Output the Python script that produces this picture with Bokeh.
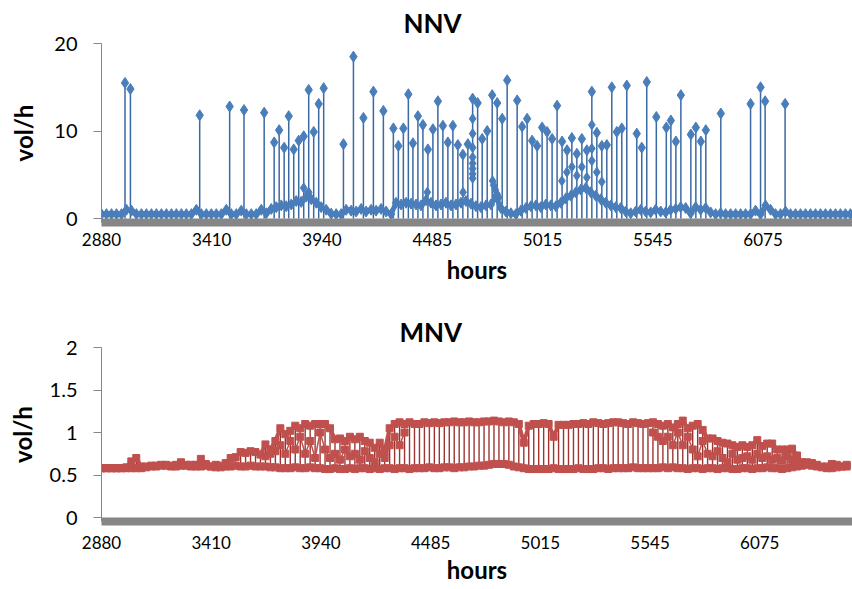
import numpy as np
from bokeh.plotting import figure
from bokeh.layouts import column
from bokeh.models import Range1d, FixedTicker
from bokeh.embed import file_html
from bokeh.resources import INLINE

# ---------------- data ----------------
# x positions are sample (hour) indices counted from the first sample;
# the category axis prints a label every 530 samples
tick_labels = ["2880", "3410", "3940", "4485", "5015", "5545", "6075"]
label_step = 530
samples_per_day = 24

# NNV: daily baseline level (one value per day)
nnv_base = [
    0.5, 0.5, 0.5, 0.5, 0.5, 1.0, 0.9, 0.5, 0.5, 0.5,
    0.5, 0.5, 0.5, 0.5, 0.5, 0.5, 0.5, 0.5, 0.5, 1.0,
    0.5, 0.5, 0.5, 0.5, 0.5, 1.0, 0.5, 0.5, 0.9, 0.5,
    0.5, 0.5, 1.0, 0.6, 1.1, 1.3, 1.5, 1.4, 1.6, 2.0,
    1.9, 2.5, 2.2, 1.8, 1.3, 1.0, 0.55, 0.5, 0.5, 1.0,
    0.9, 0.8, 1.1, 0.8, 1.0, 0.9, 1.1, 0.8, 0.5, 1.8,
    1.6, 1.8, 1.7, 1.6, 1.5, 2.1, 1.8, 1.5, 1.6, 1.8,
    1.5, 1.6, 1.8, 2.0, 1.7, 1.4, 1.3, 1.5, 1.6, 2.5,
    1.2, 0.8, 0.6, 0.5, 0.9, 1.2, 1.4, 1.5, 1.3, 1.6,
    1.5, 1.4, 1.8, 2.3, 2.6, 3.0, 3.3, 3.5, 3.0, 2.6,
    2.2, 1.8, 1.5, 1.3, 1.2, 0.8, 0.6, 0.8, 1.0, 0.8,
    0.7, 1.0, 0.8, 0.7, 1.0, 1.1, 1.3, 1.2, 0.6, 1.3,
    1.0, 1.2, 0.7, 0.5, 0.6, 0.5, 0.5, 0.5, 0.5, 0.5,
    0.5, 0.9, 0.5, 1.5, 1.0, 0.5, 0.5, 0.8, 0.5, 0.5,
    0.5, 0.5, 0.5, 0.5, 0.5, 0.5, 0.5, 0.5, 0.5, 0.5, 0.5,
]

# NNV: daily peaks (sample index, value)
spike_x = [
    113, 139, 472, 616, 685, 782, 830, 854, 878, 900,
    924, 948, 972, 996, 1020, 1044, 1068, 1163, 1211, 1259,
    1307, 1355, 1403, 1427, 1451, 1475, 1497, 1521, 1545, 1569,
    1593, 1617, 1641, 1665, 1689, 1713, 1737, 1761, 1784, 1808,
    1830, 1854, 1878, 1902, 1926, 1950, 1998, 2022, 2046, 2070,
    2094, 2118, 2142, 2166, 2190, 2214, 2238, 2261, 2285, 2309,
    2333, 2357, 2381, 2405, 2429, 2453, 2477, 2501, 2525, 2573,
    2597, 2621, 2667, 2715, 2737, 2761, 2785, 2833, 2857, 2881,
    2905, 2977, 3120, 3168, 3190, 3286,
]
spike_y = [
    15.5, 14.8, 11.8, 12.8, 12.4, 12.1, 8.7, 10.1, 8.1, 11.7,
    7.9, 8.9, 9.4, 14.7, 9.9, 13.1, 14.9, 8.5, 18.5, 11.5,
    14.5, 12.3, 10.3, 8.3, 10.3, 14.2, 8.6, 11.7, 10.7, 7.9,
    10.2, 13.4, 10.6, 8.7, 10.6, 8.4, 7.3, 8.5, 13.7, 13.2,
    9.1, 10.0, 14.1, 13.2, 11.4, 15.8, 13.5, 10.5, 11.4, 8.9,
    8.3, 10.4, 9.9, 9.1, 12.9, 8.8, 7.8, 9.2, 7.4, 9.1,
    7.8, 14.5, 9.8, 8.3, 8.4, 15.0, 9.9, 10.3, 15.2, 9.7,
    8.1, 15.6, 11.6, 10.4, 11.2, 8.8, 14.1, 9.6, 10.4, 8.8,
    10.1, 12.0, 13.1, 15.0, 13.4, 13.1,
]

# NNV: intermediate hourly values (sample index, value)
extra_x = [1784, 1784, 1784, 1784, 1784, 1784, 1784, 1784,
           1880, 1885, 1893, 1901, 1909,
           972, 996, 1566, 1738,
           2213, 2237, 2261, 2285, 2309, 2333, 2357, 2357, 2357, 2381, 2405]
extra_y = [11.4, 9.7, 8.1, 7.0, 6.3, 5.7, 5.1, 4.6,
           4.3, 3.8, 3.3, 2.8, 2.4,
           3.5, 3.0, 3.0, 3.0,
           4.3, 5.3, 5.9, 4.9, 5.9, 4.7, 6.6, 10.7, 8.0, 5.3, 4.2]

# MNV: daily low level
mnv_low = [
    0.58, 0.58, 0.58, 0.58, 0.58, 0.58, 0.58, 0.58, 0.58, 0.59,
    0.60, 0.60, 0.61, 0.61, 0.60, 0.60, 0.61, 0.61, 0.60, 0.60,
    0.60, 0.61, 0.60, 0.59, 0.59, 0.60, 0.60, 0.61, 0.60, 0.60,
    0.61, 0.60, 0.60, 0.60, 0.59, 0.59, 0.58, 0.58, 0.58, 0.59,
    0.58, 0.58, 0.59, 0.58, 0.58, 0.57, 0.57, 0.58, 0.57, 0.57,
    0.58, 0.57, 0.58, 0.58, 0.57, 0.58, 0.57, 0.58, 0.58, 0.57,
    0.58, 0.58, 0.57, 0.58, 0.58, 0.58, 0.59, 0.58, 0.58, 0.59,
    0.59, 0.58, 0.59, 0.59, 0.60, 0.60, 0.61, 0.61, 0.62, 0.63,
    0.63, 0.63, 0.62, 0.60, 0.59, 0.58, 0.57, 0.57, 0.57, 0.57,
    0.57, 0.58, 0.57, 0.57, 0.57, 0.57, 0.58, 0.57, 0.57, 0.57,
    0.58, 0.58, 0.57, 0.58, 0.58, 0.58, 0.58, 0.59, 0.58, 0.58,
    0.58, 0.58, 0.58, 0.59, 0.58, 0.59, 0.58, 0.58, 0.57, 0.58,
    0.58, 0.57, 0.58, 0.58, 0.57, 0.58, 0.58, 0.57, 0.57, 0.58,
    0.58, 0.57, 0.58, 0.58, 0.59, 0.58, 0.58, 0.57, 0.58, 0.59,
    0.60, 0.61, 0.62, 0.61, 0.60, 0.59, 0.58, 0.58, 0.59, 0.60, 0.60,
]

# MNV: daily high level
mnv_high = [
    0.58, 0.58, 0.58, 0.58, 0.58, 0.59, 0.66, 0.70, 0.60, 0.60,
    0.61, 0.61, 0.62, 0.62, 0.61, 0.62, 0.65, 0.62, 0.62, 0.62,
    0.69, 0.63, 0.60, 0.62, 0.61, 0.64, 0.70, 0.71, 0.77, 0.76,
    0.78, 0.77, 0.74, 0.86, 0.80, 0.90, 1.05, 0.98, 1.02, 1.08,
    1.05, 1.10, 1.08, 1.10, 1.10, 1.10, 1.05, 0.92, 0.93, 0.90,
    0.95, 0.92, 0.95, 0.90, 0.88, 0.82, 0.88, 0.78, 1.05, 1.10,
    1.12, 1.10, 1.12, 1.10, 1.10, 1.12, 1.11, 1.12, 1.11, 1.12,
    1.12, 1.13, 1.12, 1.12, 1.13, 1.12, 1.12, 1.13, 1.13, 1.14,
    1.13, 1.12, 1.13, 1.12, 1.10, 0.88, 1.08, 1.10, 1.10, 1.11,
    1.10, 0.95, 1.09, 1.09, 1.09, 1.10, 1.10, 1.11, 1.10, 1.12,
    1.11, 1.10, 1.11, 1.12, 1.12, 1.11, 1.10, 1.12, 1.11, 1.10,
    1.11, 1.12, 1.10, 1.08, 1.10, 1.06, 1.10, 1.14, 1.05, 1.08,
    1.10, 1.03, 0.93, 0.93, 0.90, 0.88, 0.87, 0.85, 0.83, 0.85,
    0.83, 0.85, 0.91, 0.84, 0.87, 0.87, 0.80, 0.80, 0.80, 0.81,
    0.73, 0.65, 0.65, 0.64, 0.62, 0.60, 0.60, 0.63, 0.62, 0.60, 0.62,
]

# MNV: scattered intermediate values on unsettled days (None = none)
mnv_mid = ([None] * 33 + [
    0.72, 0.75, 0.78, 0.85, 0.75, 0.90, 0.80, 0.95, 0.75, 0.90,
    0.70, 1.00, 0.80, 0.70, 0.75, 0.68, 0.80, 0.72, 0.75, 0.68,
    0.78, 0.70, 0.65, 0.75, 0.70, 0.85, 0.95, 0.85, 1.00,
] + [None] * 49 + [
    1.00, 0.95, 0.90, 0.95, 0.85, 1.00, 0.85, 0.95, 0.80, 0.72,
    0.90, 0.75, 0.72, 0.78, 0.70, 0.65, 0.75, 0.68, 0.70, 0.72,
    0.68, 0.75, 0.70, 0.72, 0.68, 0.70, 0.67, 0.72, 0.68, 0.65,
] + [None] * 10)

nnv_yticks = [0, 10, 20]
mnv_yticks = [0, 0.5, 1, 1.5, 2]
mnv_ytick_labels = ["0", "0.5", "1", "1.5", "2"]

# ---------------- styling ----------------
FONT = "Lato"
BLUE = "#4A7EBB"
BLUE_LINE = "#3A69A3"
RED = "#C0504D"
RED_LINE = "#9E3431"
AXIS_GREY = "#868686"
W = 852

day_x = [samples_per_day * k for k in range(len(nnv_base))]
tick_pos = [label_step * i for i in range(len(tick_labels))]
mid_arr = np.array([np.nan if v is None else v for v in mnv_mid], dtype=float)


def style(p, title, title_offset, title_standoff, yticks, ylabels,
          xstandoff, xlabel_standoff, ylabel_standoff):
    p.outline_line_color = None
    p.xgrid.grid_line_color = None
    p.ygrid.grid_line_color = None

    p.title.text = title
    p.title.align = "left"
    p.title.offset = title_offset
    p.title.standoff = title_standoff
    p.title.text_font = FONT
    p.title.text_font_size = "26px"
    p.title.text_font_style = "bold"
    p.title.text_color = "black"

    xa = p.xaxis[0]
    xa.ticker = FixedTicker(ticks=tick_pos)
    xa.major_label_overrides = {pos: lab for pos, lab in zip(tick_pos, tick_labels)}
    xa.axis_line_color = AXIS_GREY
    xa.axis_line_width = 8
    xa.major_tick_out = 0
    xa.major_tick_in = 0
    xa.minor_tick_out = 0
    xa.minor_tick_in = 0
    xa.major_label_text_font = FONT
    xa.major_label_text_font_size = "17px"
    xa.major_label_text_color = "black"
    xa.major_label_standoff = xstandoff
    xa.axis_label = "hours"
    xa.axis_label_text_font = FONT
    xa.axis_label_text_font_size = "24px"
    xa.axis_label_text_font_style = "bold"
    xa.axis_label_text_color = "black"
    xa.axis_label_standoff = xlabel_standoff

    ya = p.yaxis[0]
    ya.ticker = FixedTicker(ticks=yticks)
    ya.major_label_overrides = {t: l for t, l in zip(yticks, ylabels)}
    ya.axis_line_color = AXIS_GREY
    ya.axis_line_width = 1
    ya.major_tick_line_color = AXIS_GREY
    ya.major_tick_out = 8
    ya.major_tick_in = 0
    ya.minor_tick_out = 0
    ya.minor_tick_in = 0
    ya.major_label_text_font = FONT
    ya.major_label_text_font_size = "20px"
    ya.major_label_text_color = "black"
    ya.major_label_standoff = 16
    ya.axis_label = "vol/h"
    ya.axis_label_text_font = FONT
    ya.axis_label_text_font_size = "24px"
    ya.axis_label_text_font_style = "bold"
    ya.axis_label_text_color = "black"
    ya.axis_label_standoff = ylabel_standoff


# ---------------- NNV ----------------
p1 = figure(width=W, height=298, output_backend="svg", toolbar_location=None,
            x_range=Range1d(0, 3610), y_range=Range1d(-0.457, 20),
            min_border_left=98, min_border_right=0, min_border_top=43, min_border_bottom=76)
style(p1, "NNV", 302, 9, nnv_yticks, [str(t) for t in nnv_yticks], 10, 6, 13)

p1.segment(x0=spike_x, y0=0, x1=spike_x, y1=spike_y, line_color=BLUE_LINE, line_width=1.5)
p1.line(day_x, nnv_base, line_color=BLUE, line_width=5, line_join="round")
p1.scatter(day_x, nnv_base, marker="diamond", size=11, fill_color=BLUE, line_color=BLUE)
p1.scatter(extra_x, extra_y, marker="diamond", size=10, fill_color=BLUE, line_color=BLUE)
p1.scatter(spike_x, spike_y, marker="diamond", size=11, fill_color=BLUE, line_color=BLUE)

# ---------------- MNV ----------------
p2 = figure(width=W, height=291, output_backend="svg", toolbar_location=None,
            x_range=Range1d(0, 3628), y_range=Range1d(-0.047, 2),
            min_border_left=101, min_border_right=0, min_border_top=49, min_border_bottom=68)
style(p2, "MNV", 298, 0, mnv_yticks, mnv_ytick_labels, 14, 3, 10)

p2.segment(x0=day_x, y0=mnv_low, x1=day_x, y1=mnv_high, line_color=RED_LINE, line_width=1.4)
p2.line(day_x, mid_arr, line_color=RED, line_width=1.5)
p2.scatter(day_x, mid_arr, marker="square", size=7, fill_color=RED, line_color=RED)
p2.line(day_x, mnv_low, line_color=RED, line_width=4, line_join="round")
p2.scatter(day_x, mnv_low, marker="square", size=7, fill_color=RED, line_color=RED)
p2.line(day_x, mnv_high, line_color=RED, line_width=4, line_join="round")
p2.scatter(day_x, mnv_high, marker="square", size=7, fill_color=RED, line_color=RED)

layout = column(p1, p2, spacing=0)
open("out.html", "w").write(file_html(layout, INLINE))
